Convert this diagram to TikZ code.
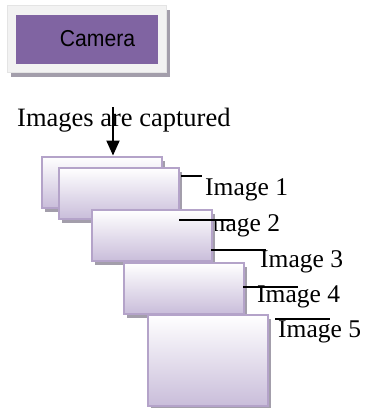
\documentclass[tikz,border=0pt]{standalone}
\usepackage{fontspec}
\setmainfont{Liberation Serif}
\newfontfamily\arialf{Liberation Sans}
\usetikzlibrary{arrows.meta,shadows}
\definecolor{campurple}{HTML}{8064A2}
\definecolor{framegrey}{HTML}{F2F2F2}
\definecolor{framedge}{HTML}{E4E4E4}
\definecolor{shadowgrey}{HTML}{A39EAB}
\definecolor{boxborder}{HTML}{B4A3C9}
\definecolor{boxbottom}{HTML}{C9BDDA}
\tikzset{
  framebox/.style={rectangle, fill=framegrey, draw=framedge, line width=0.6pt,
    minimum width=159pt, minimum height=67pt, inner sep=0pt,
    drop shadow={shadow xshift=3pt, shadow yshift=-4pt, fill=shadowgrey, opacity=1}},
  purplebox/.style={rectangle, fill=campurple, minimum width=142pt, minimum height=49pt, inner sep=0pt},
  stackbox/.style={rectangle, draw=boxborder, line width=2pt, top color=white, bottom color=boxbottom,
    minimum width=120pt, minimum height=51pt, inner sep=0pt,
    drop shadow={shadow xshift=3pt, shadow yshift=-4pt, fill=shadowgrey, opacity=1}},
  capfont/.style={font=\fontsize{26.5}{30}\selectfont},
  labfont/.style={font=\fontsize{25.5}{30}\selectfont, inner sep=0pt, anchor=base west},
  leader/.style={line width=2pt, black},
}
\begin{document}
\begin{tikzpicture}[x=1pt,y=-1pt]
\useasboundingbox (0,0) rectangle (365,408);
% camera
\node[framebox] (frame) at (87,39) {};
\node[purplebox] (cam) at (87,39.5) {};
\node[font=\arialf\fontsize{23}{26}\selectfont, xscale=0.92, inner sep=0pt] (camtext) at (97.5,38.5) {Camera};
% caption
\node[capfont, inner sep=0pt, anchor=base west] (cap) at (17,126) {Images are captured};
% stack
\node[stackbox] (b0) at (102,182) {};
\node[stackbox] (b1) at (119,193.5) {};
\node[labfont] (t1) at (205,195) {Image 1};
\node[labfont] (t2) at (197,231.5) {Image 2};
\node[stackbox] (b2) at (151.5,235.5) {};
\node[stackbox] (b3) at (184,288.5) {};
\node[stackbox, minimum height=91pt] (b4) at (208,360.5) {};
\node[labfont] (t3) at (260,267) {Image 3};
\node[labfont] (t4) at (257,302) {Image 4};
\node[labfont] (t5) at (278,337) {Image 5};
% arrow
\coordinate (astart) at (113,107);
\draw[line width=2pt, -{Triangle[width=13pt,length=15pt]}] (astart) -- (astart |- b0.north);
% leaders
\coordinate (l1a) at (181,176); \coordinate (l1b) at (202,176);
\coordinate (l2a) at (179,220); \coordinate (l2b) at (233,220);
\coordinate (l3a) at (211,250); \coordinate (l3b) at (266,250);
\coordinate (l4a) at (243,287); \coordinate (l4b) at (298,287);
\coordinate (l5a) at (275,319); \coordinate (l5b) at (330,319);
\draw[black, line width=1.2pt] (l1a) -- (l1b);
\draw[leader] (l2a) -- (l2b);
\draw[leader] (l3a) -- (l3b);
\draw[leader] (l4a) -- (l4b);
\draw[leader] (l5a) -- (l5b);
\end{tikzpicture}
\end{document}
